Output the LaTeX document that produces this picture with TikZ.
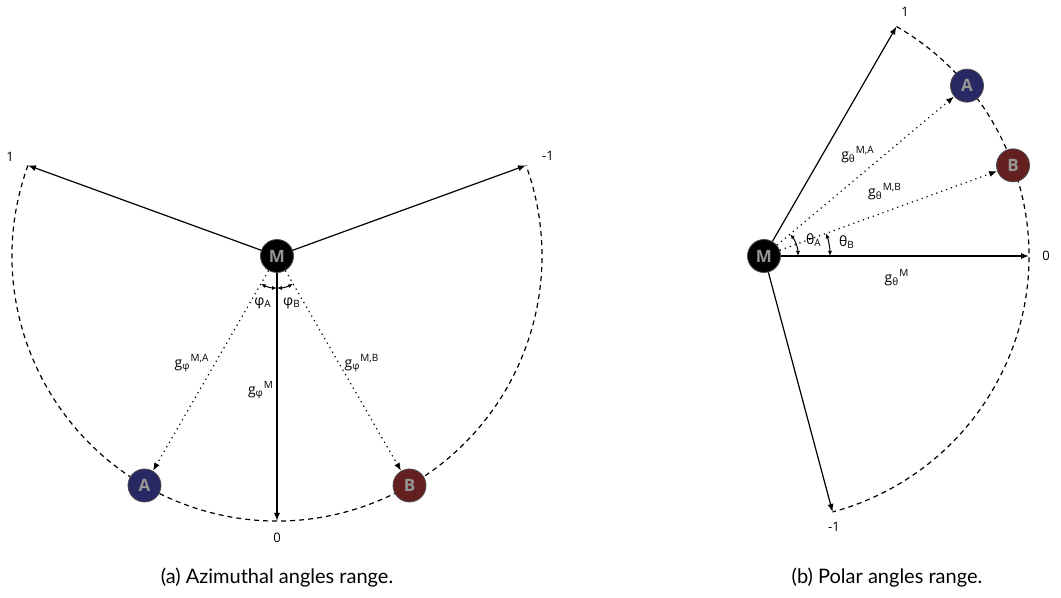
\documentclass[tikz,border=0pt]{standalone}
\usepackage{fontspec}
\setmainfont{Open Sans}
\newfontfamily\capfont{Lato}
\usetikzlibrary{arrows.meta,positioning}
\definecolor{nodeA}{RGB}{40,40,100}
\definecolor{nodeB}{RGB}{100,32,32}
\definecolor{letter}{RGB}{150,150,150}

\begin{document}
\begin{tikzpicture}[
  x=0.5pt, y=0.5pt,
  >={Latex[length=4pt,width=3pt]},
  ball/.style={circle, draw=black!70, line width=0.4pt, minimum size=16.5pt, inner sep=0pt, font=\bfseries\fontsize{8.5}{9}\selectfont, text=letter},
  lbl/.style={font=\fontsize{6.5}{7}\selectfont, inner sep=0pt},
  glbl/.style={font=\fontsize{7}{8}\selectfont, inner sep=0pt},
  axis/.style={->, line width=0.6pt},
  ray/.style={->, line width=0.6pt, dotted},
  rim/.style={line width=0.6pt, dash pattern=on 2.5pt off 2pt},
  ang/.style={{Latex[length=2.5pt,width=2pt]}-{Latex[length=2.5pt,width=2pt]}, line width=0.5pt},
  caption/.style={font=\capfont\fontsize{10}{12}\selectfont}
]
\useasboundingbox (0,0) rectangle (1061,598);

% (a) azimuthal angles
\coordinate (Mc) at (277,342);
\coordinate (one) at ([shift={(160:265)}]Mc);
\coordinate (mone) at ([shift={(20:265)}]Mc);
\coordinate (zero) at ([shift={(270:265)}]Mc);
\draw[rim] (one) arc (160:380:265);
\node[ball, fill=black] (M) at (Mc) {M};
\node[ball, fill=nodeA] (A) at ([shift={(240:265)}]Mc) {A};
\node[ball, fill=nodeB] (B) at ([shift={(300:265)}]Mc) {B};
\draw[axis] (M) -- (one);
\draw[axis] (M) -- (mone);
\draw[axis] (M) -- (zero);
\draw[ray] (M) -- (A);
\draw[ray] (M) -- (B);
\draw[ang] ([shift={(240:32)}]Mc) arc (240:270:32);
\draw[ang] ([shift={(300:32)}]Mc) arc (300:270:32);
\node[lbl] at (10,441) {1};
\node[lbl] at (548,442) {-1};
\node[lbl] at (277,60) {0};
\node[glbl] at (263,295) {φ\textsubscript{A}};
\node[glbl] at (292,295) {φ\textsubscript{B}};
\node[glbl] at (192,235) {g\textsubscript{φ}\textsuperscript{M,A}};
\node[glbl] at (261,208) {g\textsubscript{φ}\textsuperscript{M}};
\node[glbl] at (362,235) {g\textsubscript{φ}\textsuperscript{M,B}};
\node[caption] at (277,20) {(a) Azimuthal angles range.};

% (b) polar angles
\coordinate (Pc) at (764,342);
\coordinate (pone) at ([shift={(60:265)}]Pc);
\coordinate (pzero) at ([shift={(0:265)}]Pc);
\coordinate (pmone) at ([shift={(-75:265)}]Pc);
\draw[rim] (pone) arc (60:-75:265);
\node[ball, fill=black] (M2) at (Pc) {M};
\node[ball, fill=nodeA] (A2) at ([shift={(40:265)}]Pc) {A};
\node[ball, fill=nodeB] (B2) at ([shift={(20:265)}]Pc) {B};
\draw[axis] (M2) -- (pone);
\draw[axis] (M2) -- (pzero);
\draw[axis] (M2) -- (pmone);
\draw[ray] (M2) -- (A2);
\draw[ray] (M2) -- (B2);
\draw[ang] ([shift={(0:34)}]Pc) arc (0:40:34);
\draw[ang] ([shift={(0:66)}]Pc) arc (0:20:66);
\node[lbl] at (905,586) {1};
\node[lbl] at (1046,342) {0};
\node[lbl] at (834,71) {-1};
\node[glbl] at (814,358) {θ\textsubscript{A}};
\node[glbl] at (847,356) {θ\textsubscript{B}};
\node[glbl] at (858,443) {g\textsubscript{θ}\textsuperscript{M,A}};
\node[glbl] at (885,406) {g\textsubscript{θ}\textsuperscript{M,B}};
\node[glbl] at (897,320) {g\textsubscript{θ}\textsuperscript{M}};
\node[caption] at (887,20) {(b) Polar angles range.};
\end{tikzpicture}
\end{document}
